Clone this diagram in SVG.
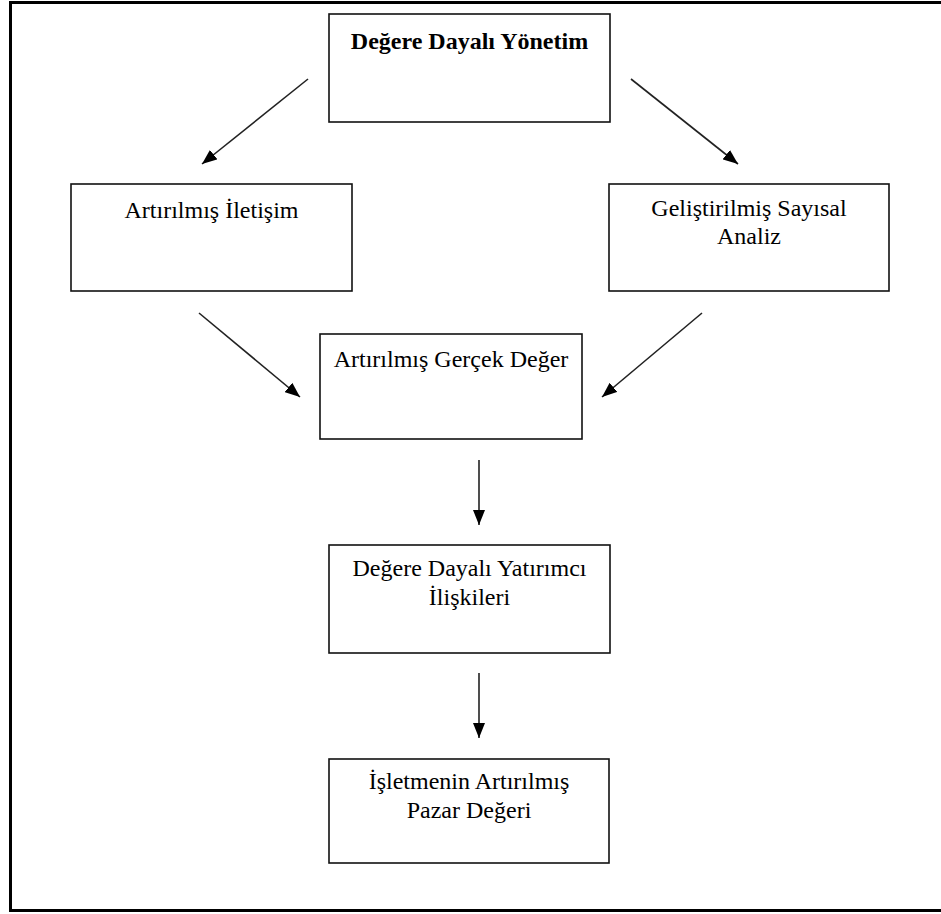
<svg xmlns="http://www.w3.org/2000/svg" width="941" height="914" viewBox="0 0 941 914">
<style>
.box{fill:#fff;stroke:#111;stroke-width:1.6}
.t{font-family:"Liberation Serif","Times New Roman",serif;font-size:24px;fill:#000;text-anchor:middle}
.b{font-weight:bold}
.c{stroke:#222;stroke-width:1.6;fill:none;marker-end:url(#ah)}
</style>
<defs>
<marker id="ah" markerUnits="userSpaceOnUse" markerWidth="16" markerHeight="12" refX="15" refY="6" orient="auto">
<path d="M0,0 L15,6 L0,12 z" fill="#000"/>
</marker>
</defs>
<rect x="10.5" y="2.5" width="950" height="908" fill="#fff" stroke="#000" stroke-width="3"/>
<g id="connectors">
<line class="c" x1="308" y1="79" x2="202" y2="164"/>
<line class="c" x1="631" y1="79" x2="738" y2="164"/>
<line class="c" x1="199" y1="313" x2="300" y2="397"/>
<line class="c" x1="702" y1="313" x2="602" y2="397"/>
<line class="c" x1="479" y1="460" x2="479" y2="525"/>
<line class="c" x1="479" y1="673" x2="479" y2="738"/>
</g>
<g id="n1">
<rect class="box" x="329" y="14" width="281" height="108"/>
<text class="t b" x="469.5" y="49">Değere Dayalı Yönetim</text>
</g>
<g id="n2">
<rect class="box" x="71" y="184" width="281" height="107"/>
<text class="t" x="211.5" y="218">Artırılmış İletişim</text>
</g>
<g id="n3">
<rect class="box" x="609" y="184" width="280" height="107"/>
<text class="t" x="749" y="216">Geliştirilmiş Sayısal</text>
<text class="t" x="749" y="244">Analiz</text>
</g>
<g id="n4">
<rect class="box" x="320" y="334" width="262" height="105"/>
<text class="t" x="451" y="367">Artırılmış Gerçek Değer</text>
</g>
<g id="n5">
<rect class="box" x="329" y="545" width="281" height="108"/>
<text class="t" x="469.5" y="576">Değere Dayalı Yatırımcı</text>
<text class="t" x="469.5" y="605">İlişkileri</text>
</g>
<g id="n6">
<rect class="box" x="329" y="759" width="280" height="104"/>
<text class="t" x="469" y="789">İşletmenin Artırılmış</text>
<text class="t" x="469" y="818">Pazar Değeri</text>
</g>
</svg>
